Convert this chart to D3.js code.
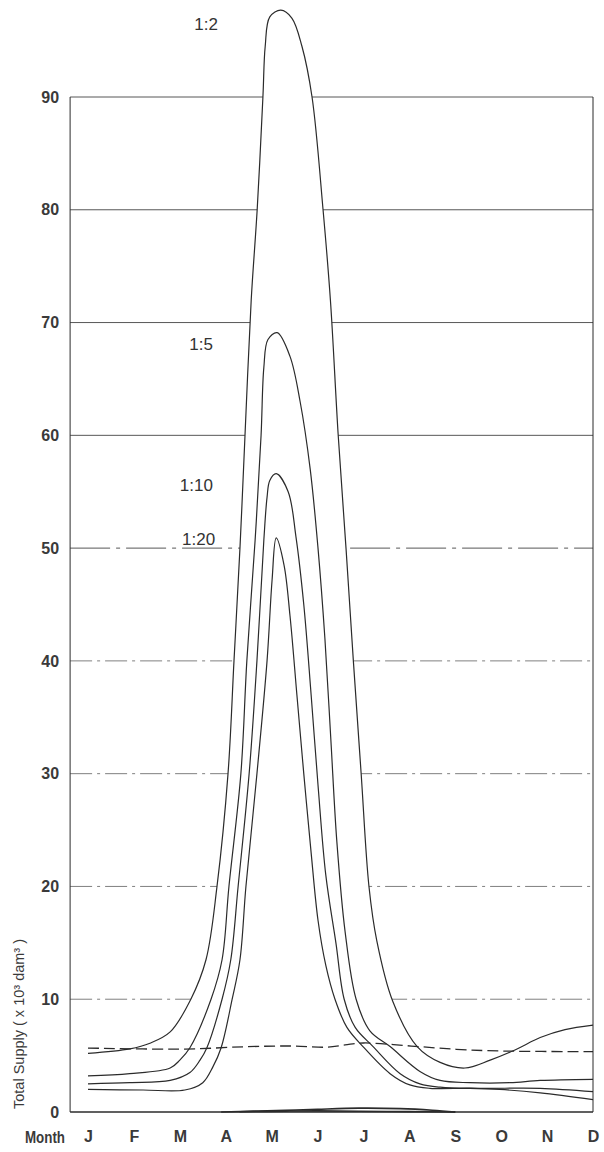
<!DOCTYPE html>
<html><head><meta charset="utf-8">
<script src="https://cdn.jsdelivr.net/npm/d3@7"></script>
<style>html,body{margin:0;padding:0;background:#fff}</style>
</head><body>
<script>
// ---- data ----
const months = ["J","F","M","A","M","J","J","A","S","O","N","D"];
const yTicks = [0,10,20,30,40,50,60,70,80,90];
const gridValues = [10,20,30,40,50,60,70,80,90];
// [month index, total supply (x10^3 dam^3)]
const rp2 = [[0,5.2],[0.91,5.6],[1.35,6.1],[1.79,7.1],[2.24,10],[2.57,13.5],[2.81,20],[3.05,30],[3.18,40],[3.31,50],[3.42,60],[3.555,72],[3.685,80],[3.81,90],[3.86,94.5],[3.96,97.1],[4.20,97.7],[4.44,97.0],[4.66,94.5],[4.88,90],[5.12,80],[5.28,72],[5.45,60],[5.62,50],[5.78,40],[5.95,30],[6.12,20],[6.29,15.2],[6.64,9.8],[7.17,5.8],[7.67,4.4],[8.21,3.9],[8.76,4.6],[9.30,5.5],[9.85,6.6],[10.39,7.3],[11,7.7]];
const rp5 = [[0,3.2],[0.91,3.4],[1.79,3.9],[2.0,4.6],[2.22,5.7],[2.68,10],[2.92,13.5],[3.07,20],[3.33,30],[3.46,40],[3.64,50.7],[3.77,60],[3.83,66],[3.92,68.5],[4.12,69.1],[4.40,67],[4.62,63],[4.84,57],[5.01,50],[5.16,42],[5.29,33],[5.42,24],[5.60,16],[5.84,10],[6.14,7.2],[6.58,5.8],[7.23,3.6],[7.67,2.8],[8.32,2.6],[9.19,2.6],[9.85,2.8],[11,2.9]];
const rp10 = [[0,2.5],[0.91,2.6],[1.79,2.8],[2.22,3.5],[2.44,4.6],[2.59,5.7],[2.92,10],[3.11,13.5],[3.27,20],[3.51,30],[3.68,40],[3.83,50.7],[3.90,54.5],[3.96,56.0],[4.10,56.6],[4.36,55],[4.53,51],[4.70,45],[4.86,37],[5.01,29],[5.18,21],[5.40,15],[5.58,10],[5.82,7.5],[6.21,5.8],[6.80,3.4],[7.23,2.5],[7.67,2.2],[8.54,2.1],[9.85,2.1],[11,1.8]];
const rp20 = [[0,2.0],[1.2,1.95],[2.11,1.95],[2.50,2.6],[2.72,4.0],[2.90,5.7],[3.14,10],[3.31,13.5],[3.44,20],[3.68,30],[3.90,40],[4.01,47.2],[4.10,50.9],[4.27,48.5],[4.40,44],[4.55,37],[4.70,30],[4.86,23],[5.01,17],[5.18,13],[5.38,10],[5.64,7.5],[5.99,5.8],[6.58,3.4],[7.01,2.4],[7.45,2.1],[8.32,2.1],[8.97,2.0],[9.85,1.7],[11,1.1]];
const demand = [[0,5.67],[2.11,5.58],[3.44,5.79],[4.44,5.85],[5.21,5.75],[5.6,5.95],[6.0,6.12],[7.04,5.85],[8.02,5.56],[8.97,5.41],[11,5.35]];
const lowA = [[2.9,0],[3.6,0.08],[4.3,0.14],[5.0,0.24],[5.9,0.34],[6.8,0.3],[7.5,0.16],[8.0,0]];
const lowB = [[3.3,0.02],[4.3,0.08],[5.0,0.1],[5.9,0.06],[7.0,0.03],[8.0,0]];
const curveLabels = ["1:2","1:5","1:10","1:20"];
const labelAt = [[2.83,95.9],[2.72,67.6],[2.72,55.1],[2.77,50.3]];

// ---- drawing ----
const W = 604, H = 1152;
const svg = d3.select("body").append("svg").attr("width", W).attr("height", H)
  .style("font-family", "'Liberation Sans', Arial, Helvetica, sans-serif");
svg.append("rect").attr("width", W).attr("height", H).attr("fill", "#fff");

const x = d3.scaleLinear().domain([0, 11]).range([88, 593]);
const y = d3.scaleLinear().domain([0, 90]).range([1112, 97]);
const xL = x(-0.39), xR = x(11);
const ink = "#2b2b2b";
const crv = d3.curveCatmullRom.alpha(0.5);

// gridlines
svg.append("g").selectAll("line").data(gridValues).join("line")
  .attr("x1", xL).attr("x2", xR).attr("y1", d => y(d)).attr("y2", d => y(d))
  .attr("stroke", "#444").attr("stroke-width", 0.9)
  .attr("stroke-dasharray", d => d <= 40 ? "22,5,3,5" : (d === 50 ? "40,6,4,6" : null))
  .attr("opacity", d => d <= 40 ? 0.75 : 1);

// mask gridlines inside the 1:2 envelope
svg.append("path").datum(rp2)
  .attr("d", d3.area().x(d => x(d[0])).y0(y(0)).y1(d => y(d[1])).curve(crv))
  .attr("fill", "#fff");

// frame
svg.append("line").attr("x1", xL).attr("x2", xL).attr("y1", y(90)).attr("y2", y(0)).attr("stroke", ink).attr("stroke-width", 1);
svg.append("line").attr("x1", xR).attr("x2", xR).attr("y1", y(90)).attr("y2", y(0)).attr("stroke", ink).attr("stroke-width", 1);
svg.append("line").attr("x1", xL).attr("x2", xR).attr("y1", y(0)).attr("y2", y(0)).attr("stroke", ink).attr("stroke-width", 1.4);

const line = d3.line().x(d => x(d[0])).y(d => y(d[1])).curve(crv);
const series = [rp2, rp5, rp10, rp20];
svg.append("g").selectAll("path").data(series).join("path")
  .attr("d", line).attr("fill", "none").attr("stroke", ink).attr("stroke-width", 1.2);

svg.append("path").datum(demand).attr("d", line).attr("fill", "none")
  .attr("stroke", ink).attr("stroke-width", 1.3).attr("stroke-dasharray", "11,5");

svg.append("g").selectAll("path").data([lowA, lowB]).join("path")
  .attr("d", line).attr("fill", "none").attr("stroke", ink).attr("stroke-width", 1.6);

// curve labels
svg.append("g").selectAll("text").data(curveLabels).join("text")
  .attr("x", (d, i) => x(labelAt[i][0])).attr("y", (d, i) => y(labelAt[i][1]))
  .attr("text-anchor", "end").attr("font-size", 17).attr("fill", "#333").text(d => d);

// y axis
const yAxis = svg.append("g").attr("transform", `translate(${xL},0)`)
  .call(d3.axisLeft(y).tickValues(yTicks).tickSize(0).tickPadding(11));
yAxis.select(".domain").remove();
yAxis.selectAll("text").attr("font-size", 16).attr("font-weight", "bold").attr("fill", "#3a3a3a")
  .style("font-family", "'Liberation Sans', Arial, sans-serif");

// x axis
const xAxis = svg.append("g").attr("transform", `translate(0,${y(0)})`)
  .call(d3.axisBottom(x).tickValues(d3.range(12)).tickFormat(i => months[i]).tickSize(0).tickPadding(19));
xAxis.select(".domain").remove();
xAxis.selectAll("text").attr("font-size", 16).attr("font-weight", "bold").attr("fill", "#3a3a3a")
  .style("font-family", "'Liberation Sans', Arial, sans-serif");

svg.append("text").attr("x", 45).attr("y", 1143).attr("text-anchor", "middle")
  .attr("font-size", 16).attr("font-weight", "bold").attr("fill", "#3a3a3a")
  .attr("textLength", 40).attr("lengthAdjust", "spacingAndGlyphs").text("Month");

// y title
const yt = svg.append("text").attr("transform", "translate(24,1024) rotate(-90)")
  .attr("text-anchor", "middle").attr("font-size", 14.5).attr("fill", "#3a3a3a");
yt.text("Total Supply ( x 10³ dam³ )");
</script>
</body></html>
